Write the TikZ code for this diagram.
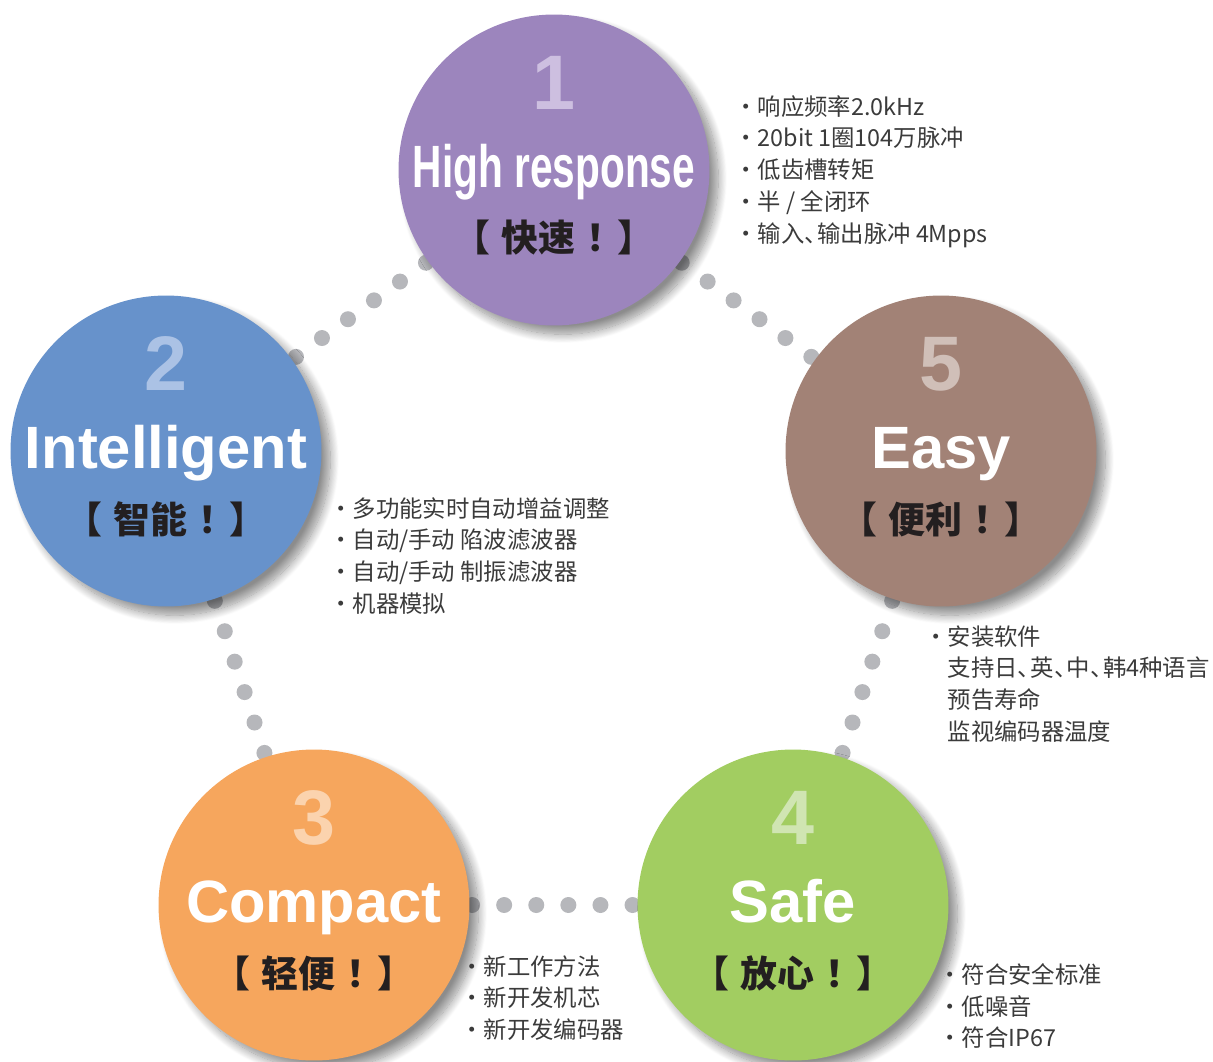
\documentclass[tikz,border=0pt]{standalone}
\usepackage{graphicx}
\usepackage{fontspec}
\setmainfont{Liberation Sans}
\newfontfamily\cjk{Noto Sans CJK SC}
\usetikzlibrary{calc,shadows.blur}

\definecolor{hiC}{HTML}{9C85BD}
\definecolor{hiL}{HTML}{CDBFE0}
\definecolor{intC}{HTML}{6792CB}
\definecolor{intL}{HTML}{ABC2E5}
\definecolor{easyC}{HTML}{A28276}
\definecolor{easyL}{HTML}{D0BFB8}
\definecolor{compC}{HTML}{F6A65D}
\definecolor{compL}{HTML}{FBD3AE}
\definecolor{safeC}{HTML}{A2CD61}
\definecolor{safeL}{HTML}{D0E5B2}
\definecolor{dotC}{HTML}{B6B7BB}
\definecolor{darkC}{HTML}{231F20}
\definecolor{listC}{HTML}{3B3B3B}

% narrow ideographic comma and the bracketed labels
\newcommand{\dun}{\makebox[0.55em][l]{、}}
\newcommand{\cnlabel}[1]{【\hspace{0.3em}#1\hspace{0.3em}！\hspace{-0.15em}】}

\begin{document}
\begin{tikzpicture}[x=0.02cm,y=-0.02cm,
    bubble/.style={circle,minimum size=6.22cm,inner sep=0pt,
      blur shadow={shadow xshift=5pt,shadow yshift=-5pt,shadow blur radius=5pt,shadow blur steps=16,shadow opacity=45}},
    numtext/.style={inner sep=0pt,font=\fontsize{44}{44}\selectfont\bfseries},
    headtext/.style={inner sep=0pt,anchor=base,text=white,font=\fontsize{34}{34}\selectfont\bfseries},
    cntext/.style={inner sep=0pt,text=darkC,font=\fontsize{21}{21}\selectfont\cjk\bfseries},
    itemtext/.style={inner sep=0pt,anchor=north west,align=left,text=listC,font=\fontsize{13.3}{18.1}\selectfont\cjk},
    greydot/.style={fill=dotC}]
  \useasboundingbox (0,0) rectangle (1213,1061);
  % centres of the five bubbles
  \coordinate (hi) at (554,170);
  \coordinate (intel) at (166,451);
  \coordinate (easy) at (941,451);
  \coordinate (comp) at (314,905);
  \coordinate (safe) at (793,905);
  % grey dots, drawn under the bubbles
  \foreach \a/\b in {hi/intel,hi/easy,intel/comp,easy/safe,comp/safe}
    \foreach \t in {0.33,0.397,0.464,0.531,0.598,0.665}
      \fill[greydot] ($(\a)!\t!(\b)$) circle (8);
  % 1
  \node[bubble,fill=hiC] (hi-c) at (hi) {};
  \node[numtext,text=hiL] (hi-num) at ($(hi)+(0,-87)$) {1};
  \node[headtext] (hi-head) at ($(hi)+(0,17)$) {\scalebox{0.68}[1]{High response}};
  \node[cntext] (hi-cn) at ($(hi)+(0,68)$) {\cnlabel{快速}};
  \node[itemtext] (hi-list) at (734,95) {・响应频率2.0kHz\\・20bit 1圈104万脉冲\\・低齿槽转矩\\・半 / 全闭环\\・输入\dun 输出脉冲 4Mpps};
  % 2
  \node[bubble,fill=intC] (intel-c) at (intel) {};
  \node[numtext,text=intL] (intel-num) at ($(intel)+(0,-87)$) {2};
  \node[headtext] (intel-head) at ($(intel)+(0,17)$) {Intelligent};
  \node[cntext] (intel-cn) at ($(intel)+(0,68)$) {\cnlabel{智能}};
  \node[itemtext] (intel-list) at (329,497) {・多功能实时自动增益调整\\・自动/手动 陷波滤波器\\・自动/手动 制振滤波器\\・机器模拟};
  % 5
  \node[bubble,fill=easyC] (easy-c) at (easy) {};
  \node[numtext,text=easyL] (easy-num) at ($(easy)+(0,-87)$) {5};
  \node[headtext] (easy-head) at ($(easy)+(0,17)$) {Easy};
  \node[cntext] (easy-cn) at ($(easy)+(0,68)$) {\cnlabel{便利}};
  \node[itemtext] (easy-list) at (924,625) {・安装软件\\\phantom{・}支持日\dun 英\dun 中\dun 韩4种语言\\\phantom{・}预告寿命\\\phantom{・}监视编码器温度};
  % 3
  \node[bubble,fill=compC] (comp-c) at (comp) {};
  \node[numtext,text=compL] (comp-num) at ($(comp)+(0,-87)$) {3};
  \node[headtext] (comp-head) at ($(comp)+(0,17)$) {Compact};
  \node[cntext] (comp-cn) at ($(comp)+(0,68)$) {\cnlabel{轻便}};
  \node[itemtext] (comp-list) at (460,955) {・新工作方法\\・新开发机芯\\・新开发编码器};
  % 4
  \node[bubble,fill=safeC] (safe-c) at (safe) {};
  \node[numtext,text=safeL] (safe-num) at ($(safe)+(0,-87)$) {4};
  \node[headtext] (safe-head) at ($(safe)+(0,17)$) {Safe};
  \node[cntext] (safe-cn) at ($(safe)+(0,68)$) {\cnlabel{放心}};
  \node[itemtext] (safe-list) at (938,963) {・符合安全标准\\・低噪音\\・符合IP67};
\end{tikzpicture}
\end{document}
